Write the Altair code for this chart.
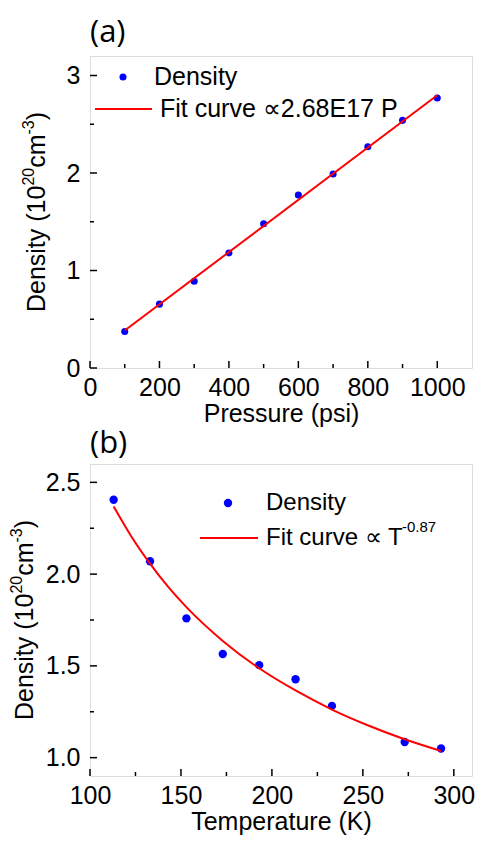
import altair as alt
import pandas as pd

# ---------------- data ----------------
pressure = [100, 200, 300, 400, 500, 600, 700, 800, 900, 1000]
density_p = [0.375, 0.655, 0.89, 1.18, 1.48, 1.775, 1.99, 2.27, 2.54, 2.77]
fit_p_x = [100, 1000]
fit_p_y = [0.385, 2.797]

temperature = [113, 133, 153, 173, 193, 213, 233, 273, 293]
density_t = [2.405, 2.07, 1.759, 1.565, 1.504, 1.427, 1.282, 1.085, 1.05]
fit_t_x = [113, 123, 133, 143, 153, 173, 193, 213, 233, 253, 273, 293]
fit_t_y = [2.369, 2.201, 2.057, 1.930, 1.820, 1.636, 1.487, 1.366, 1.262, 1.175, 1.100, 1.036]

xa_major = [0, 200, 400, 600, 800, 1000]
xa_minor = [100, 300, 500, 700, 900]
ya_major = [0, 1, 2, 3]
ya_minor = [0.5, 1.5, 2.5]

xb_major = [100, 150, 200, 250, 300]
xb_minor = [125, 175, 225, 275]
yb_major = [1.0, 1.5, 2.0, 2.5]
yb_minor = [1.25, 1.75, 2.25]

FONT = "Liberation Sans"
W = 382
H = 312

one = pd.DataFrame({"k": [0]})


def txt(t, x, y, size=25, angle=0, baseline="middle", font=FONT):
    kw = dict(text=t, align="left", baseline=baseline, font=font, fontSize=size, color="black")
    if angle:
        kw["angle"] = angle
    return alt.Chart(one).mark_text(**kw).encode(x=alt.value(x), y=alt.value(y))


def ytitle_layers(xb):
    # rotated "Density (10^20 cm^-3)" built from pieces, reading bottom-to-top
    main, sup, raise_ = 25, 16, 11
    pieces = [("Density (10", main, 0), ("20", sup, raise_), ("cm", main, 0),
              ("-3", sup, raise_), (")", main, 0)]
    widths = [5.057 * main, 1.112 * sup, 1.333 * main, 0.889 * sup, 0.333 * main]
    total = sum(widths)
    y = H / 2 + total / 2
    out = []
    for (t, s, r), w in zip(pieces, widths):
        out.append(txt(t, xb - r, y, size=s, angle=270, baseline="alphabetic"))
        y -= w
    return out


def panel(label, px, py, fx, fy, xdom, ydom, xmaj, xmin, ymaj, ymin,
          xtitle, xfmt, yfmt, ytitle_x, pt_size, legend_layers, label_y):
    xs = alt.Scale(domain=xdom, nice=False, zero=False)
    ys = alt.Scale(domain=ydom, nice=False, zero=False)
    xaxis = alt.Axis(values=xmaj, title=xtitle, grid=False, ticks=False, tickSize=0,
                     domain=False, labelFont=FONT, labelFontSize=25, labelColor="black",
                     labelPadding=7, labelFlush=False, labelOverlap=False, format=xfmt,
                     titleFont=FONT, titleFontSize=25, titleFontWeight="normal",
                     titleColor="black", titleBaseline="alphabetic", titleY=53)
    yaxis = alt.Axis(values=ymaj, title=None, grid=False, ticks=False, tickSize=0,
                     domain=False, labelFont=FONT, labelFontSize=25, labelColor="black",
                     labelPadding=10, labelFlush=False, labelOverlap=False, format=yfmt)

    def X():
        return alt.X("x:Q", scale=xs, axis=xaxis)

    def Y():
        return alt.Y("y:Q", scale=ys, axis=yaxis)

    pts = pd.DataFrame({"x": px, "y": py})
    fit = pd.DataFrame({"x": fx, "y": fy})

    fit_layer = alt.Chart(fit).mark_line(color="#FF0000", strokeWidth=2,
                                         interpolate="monotone").encode(x=X(), y=Y())
    pt_layer = alt.Chart(pts).mark_circle(color="#0000FF", size=pt_size, opacity=1).encode(x=X(), y=Y())

    xt_major = alt.Chart(pd.DataFrame({"x": xmaj})).mark_rule(color="black", strokeWidth=1.5).encode(
        x=X(), y=alt.value(H), y2=alt.value(H - 7))
    xt_minor = alt.Chart(pd.DataFrame({"x": xmin})).mark_rule(color="black", strokeWidth=1.5).encode(
        x=X(), y=alt.value(H), y2=alt.value(H - 4))
    yt_major = alt.Chart(pd.DataFrame({"y": ymaj})).mark_rule(color="black", strokeWidth=1.5).encode(
        y=Y(), x=alt.value(0), x2=alt.value(7))
    yt_minor = alt.Chart(pd.DataFrame({"y": ymin})).mark_rule(color="black", strokeWidth=1.5).encode(
        y=Y(), x=alt.value(0), x2=alt.value(4))

    panel_label = txt(label, 0, label_y, size=31, baseline="alphabetic", font="Open Sans")

    layers = ([pt_layer, fit_layer, xt_major, xt_minor, yt_major, yt_minor, panel_label]
              + ytitle_layers(ytitle_x) + legend_layers)
    return alt.layer(*layers).properties(width=W, height=H)


def legend_dot(x, y, size):
    return alt.Chart(one).mark_circle(color="#0000FF", size=size, opacity=1).encode(
        x=alt.value(x), y=alt.value(y))


def legend_line(x1, x2, y):
    return alt.Chart(one).mark_rule(color="#FF0000", strokeWidth=2).encode(
        x=alt.value(x1), x2=alt.value(x2), y=alt.value(y))


leg_a = [
    legend_dot(33, 21, 50),
    txt("Density", 64, 21),
    legend_line(5, 62, 53),
    txt("Fit curve \u221d2.68E17 P", 70, 53),
]

leg_b = [
    legend_dot(138, 39, 70),
    txt("Density", 176, 39, 24),
    legend_line(110, 168, 74),
    txt("Fit curve \u221d T", 176, 74, 24),
    txt("-0.87", 312, 63, 15),
]

chart_a = panel("(a)", pressure, density_p, fit_p_x, fit_p_y, [0, 1100], [0, 3.2],
                xa_major, xa_minor, ya_major, ya_minor,
                "Pressure (psi)", "d", "d", -45, 50, leg_a, -14)
chart_b = panel("(b)", temperature, density_t, fit_t_x, fit_t_y, [100, 310], [0.9, 2.6],
                xb_major, xb_minor, yb_major, yb_minor,
                "Temperature (K)", "d", ".1f", -57, 70, leg_b, -11)

chart = alt.vconcat(chart_a, chart_b, spacing=0).properties(
    padding={"left": 0, "top": 8, "right": 0, "bottom": 0}
).configure_view(stroke="black", strokeWidth=1.5).configure(background="white")

chart.save("out.html", embed_options={"renderer": "svg", "actions": False})
